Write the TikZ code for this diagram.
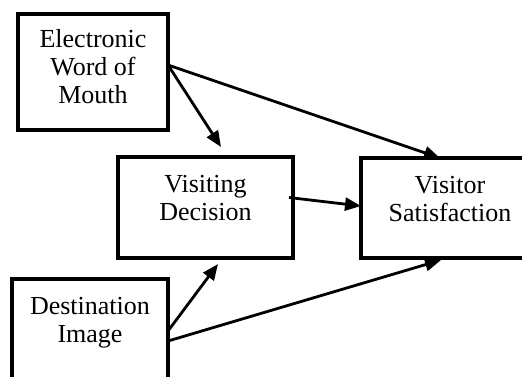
\documentclass[tikz,border=0pt]{standalone}
\usepackage{fontspec}
\setmainfont{Liberation Serif}
\usetikzlibrary{arrows.meta}
\begin{document}
\begin{tikzpicture}[x=1pt,y=-1pt,
  box/.style={draw,line width=3.2pt,inner sep=0pt,outer sep=0pt,align=center,
    font=\fontsize{26}{28}\selectfont,anchor=north west},
  link/.style={line width=2.8pt,-{Triangle[length=16pt,width=13pt]}}]
\useasboundingbox (0,0) rectangle (522,376);
\clip (0,0) rectangle (522,376);
\node[box,minimum width=150pt,text height=89pt,text depth=27pt] (ewom) at (18,14) {Electronic\\Word of\\Mouth};
\node[box,minimum width=175pt,text height=63pt,text depth=38pt] (decision) at (118,157) {Visiting\\Decision};
\node[box,minimum width=178pt,text height=63pt,text depth=37pt] (satisfaction) at (361,158) {Visitor\\Satisfaction};
\node[box,minimum width=156pt,text height=63pt,text depth=60pt] (image) at (12,279) {Destination\\Image};
\draw[link] ([yshift=7pt]ewom.east) -- ([xshift=15.5pt,yshift=10pt]decision.north);
\draw[link] ([yshift=7pt]ewom.east) -- ([xshift=-10pt]satisfaction.north);
\draw[link] ([xshift=-4pt,yshift=10pt]decision.east) -- ([yshift=2pt]satisfaction.west);
\draw[link] ([yshift=-52pt]image.north east) -- ([xshift=12.5pt,yshift=-6pt]decision.south);
\draw[link] ([yshift=-62pt]image.north east) -- ([xshift=-9pt,yshift=-2pt]satisfaction.south);
\end{tikzpicture}
\end{document}
